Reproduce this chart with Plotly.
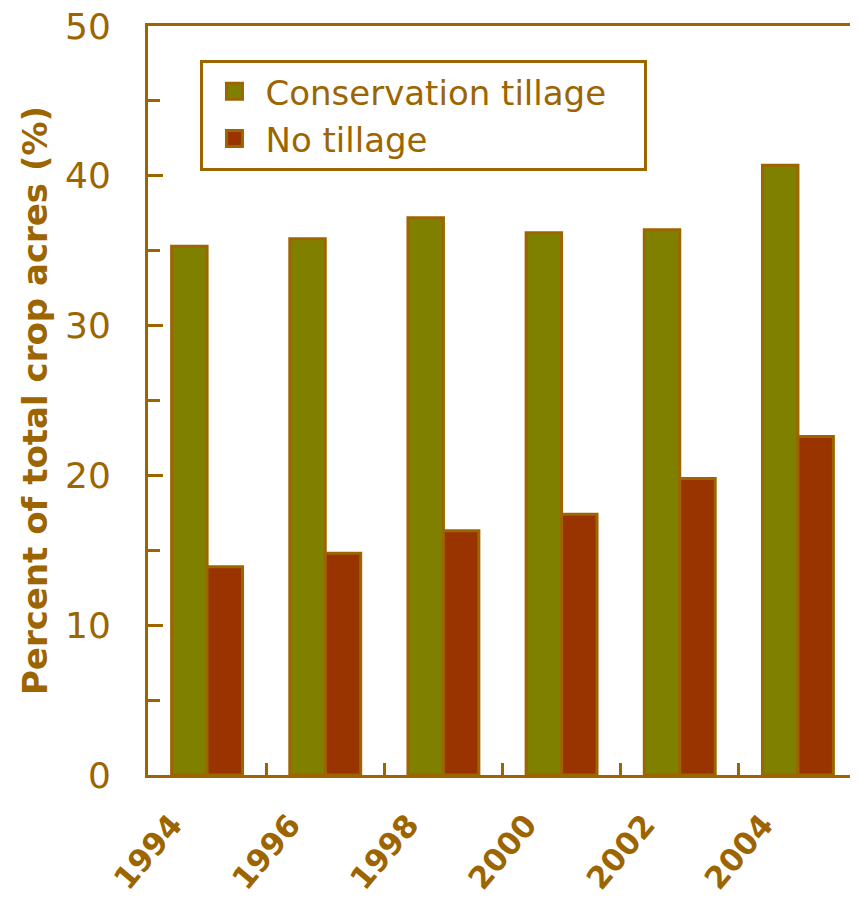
import plotly.graph_objects as go

years = ["1994", "1996", "1998", "2000", "2002", "2004"]
conservation = [35.3, 35.8, 37.2, 36.2, 36.4, 40.7]
no_tillage = [13.9, 14.8, 16.3, 17.4, 19.8, 22.6]

brown = "#9C6500"
green = "#808000"
red = "#993300"
font = "DejaVu Sans"

fig = go.Figure()
fig.add_trace(go.Bar(x=years, y=conservation, name="Conservation tillage", showlegend=False,
                     marker=dict(color=green, line=dict(color=brown, width=3))))
fig.add_trace(go.Bar(x=years, y=no_tillage, name="No tillage", showlegend=False,
                     marker=dict(color=red, line=dict(color=brown, width=3))))

# legend entries with bigger square swatches
for name, col in [("Conservation tillage", green), ("No tillage", red)]:
    fig.add_trace(go.Scatter(x=[None], y=[None], mode="markers", name=name + "\u00a0\u00a0\u00a0",
                             marker=dict(symbol="square", size=18, color=col,
                                         line=dict(color=brown, width=3))))

# page body adds an 8px offset, so the figure is a bit smaller than the window
fig.update_layout(
    width=850, height=898,
    margin=dict(l=140, r=1, t=18, b=131),
    barmode="group", bargap=0.40, bargroupgap=0,
    plot_bgcolor="white", paper_bgcolor="white",
    font=dict(family=font, color=brown),
    legend=dict(x=0.074, y=0.955, xanchor="left", yanchor="top",
                bordercolor=brown, borderwidth=3,
                font=dict(size=34, color=brown),
                itemwidth=52, tracegroupgap=0),
    showlegend=True,
)

fig.update_yaxes(
    range=[0, 50], dtick=10, ticks="inside", ticklen=15, tickwidth=3, tickcolor=brown,
    minor=dict(dtick=5, ticks="inside", ticklen=12, tickwidth=3, tickcolor=brown),
    showgrid=False, zeroline=False, automargin=False,
    showline=True, linecolor=brown, linewidth=3, mirror=True,
    tickfont=dict(size=36, color=brown),
    ticklabelstandoff=27, ticklabeloverflow="allow",
    title=dict(text="<b>Percent of total crop acres (%)</b>", font=dict(size=34, color=brown), standoff=8),
)
fig.update_xaxes(
    type="category", tickson="boundaries", ticks="inside", ticklen=12, tickwidth=3, tickcolor=brown,
    showgrid=False, showline=True, linecolor=brown, linewidth=3, mirror=True, automargin=False,
    tickangle=-50, tickfont=dict(size=31, color=brown, weight="bold"),
    ticklabelstandoff=16, ticklabelshift=-35, ticklabeloverflow="allow",
)

fig.write_html("out.html")
